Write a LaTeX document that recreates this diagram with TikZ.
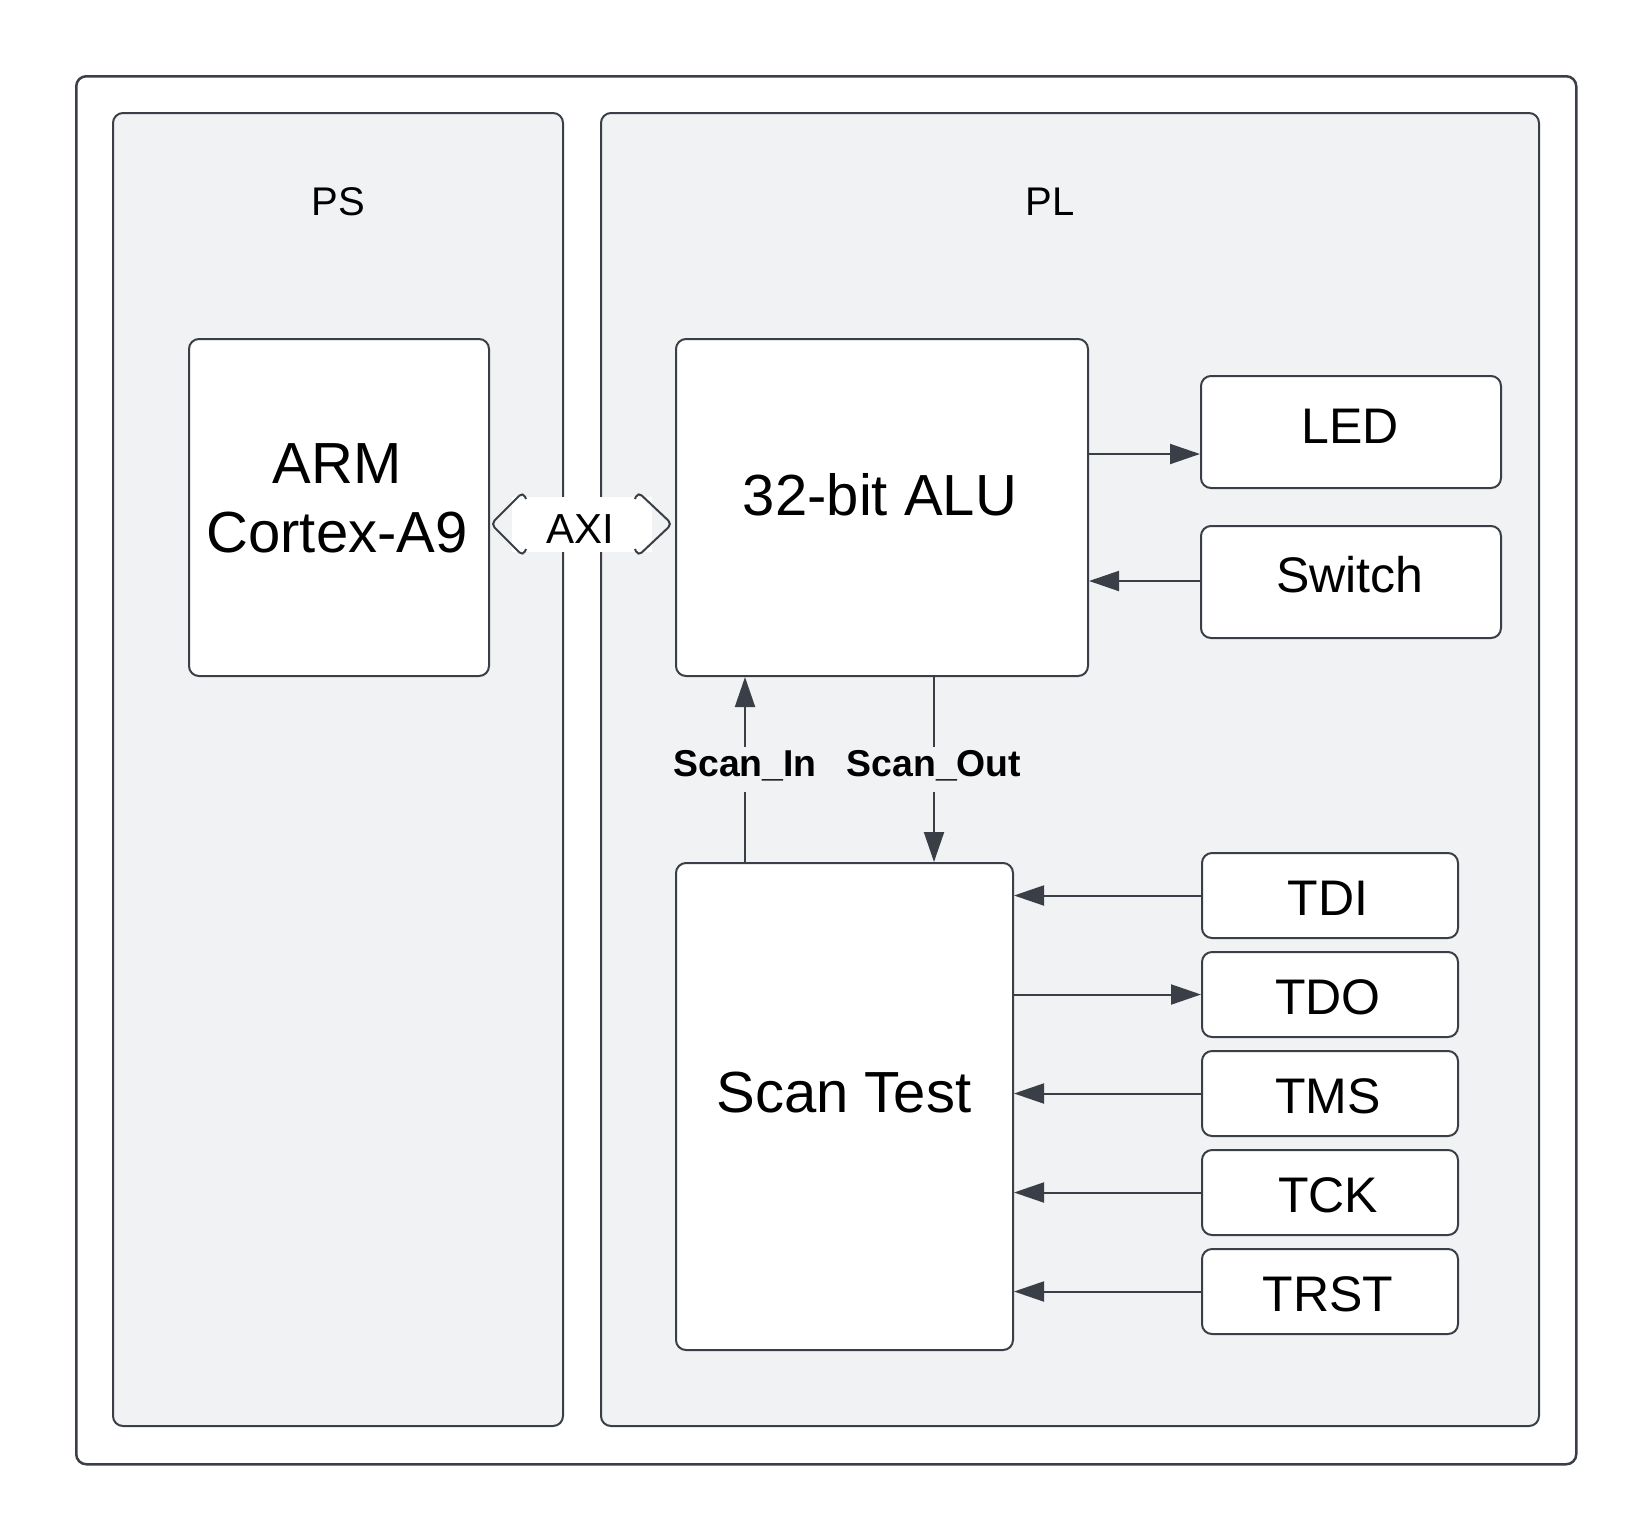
\documentclass[tikz,border=0pt]{standalone}
\usepackage{fontspec}
\setmainfont{Liberation Sans}
\usetikzlibrary{arrows.meta}
\definecolor{ln}{HTML}{3A3F47}
\definecolor{pnl}{HTML}{F1F2F4}
\begin{document}
\begin{tikzpicture}[x=0.5pt,y=-0.5pt,
  panel/.style={draw=ln, line width=1pt, fill=pnl, rounded corners=5pt, inner sep=0pt, anchor=north west},
  box/.style={draw=ln, line width=1pt, fill=white, rounded corners=5pt, inner sep=0pt, anchor=north west},
  port/.style={box, minimum width=128pt, minimum height=42.5pt},
  txt/.style={inner sep=0pt, anchor=base, text=black},
  big/.style={txt, font=\fontsize{29pt}{35pt}\selectfont},
  mid/.style={txt, font=\fontsize{25pt}{30pt}\selectfont},
  arr/.style={draw=ln, line width=1pt, -{Triangle[length=15pt,width=10pt]}},
  lbl/.style={fill=pnl, inner sep=0pt, inner xsep=2pt, text height=14.5pt, text depth=8pt,
    font=\bfseries\fontsize{18.7pt}{21pt}\selectfont, text=black}
]
\fill[white] (0,0) rectangle (1650,1538);
\useasboundingbox (0,0) rectangle (1650,1538);

% frames
\node[box, line width=1.25pt, minimum width=750pt, minimum height=694pt] (frame) at (75,75) {};
\node[panel, minimum width=225pt, minimum height=656.5pt] (ps) at (112,112) {};
\node[panel, minimum width=469pt, minimum height=656.5pt] (pl) at (600,112) {};
\node[txt, font=\fontsize{20pt}{24pt}\selectfont] (pst) at (338,215) {PS};
\node[txt, font=\fontsize{20pt}{24pt}\selectfont] (plt) at (1050,215) {PL};

% main blocks
\node[box, minimum width=150pt, minimum height=168.5pt] (arm) at (188,338) {};
\node[big] (arma) at (337,483) {ARM};
\node[big] (armb) at (337,552) {Cortex-A9};

\node[box, minimum width=206pt, minimum height=168.5pt] (alu) at (675,338) {};
\node[big] (alut) at (880,515) {32-bit ALU};

\node[box, minimum width=150pt, minimum height=56pt] (led) at (1200,375) {};
\node[mid] (ledt) at (1350,443) {LED};
\node[box, minimum width=150pt, minimum height=56pt] (sw) at (1200,525) {};
\node[mid] (swt) at (1350,592) {Switch};

\node[box, minimum width=168.5pt, minimum height=243.5pt] (scan) at (675,862) {};
\node[big] (scant) at (844,1112) {Scan Test};

% JTAG ports
\node[port] (tdi) at (1201,852) {};
\node[port] (tdo) at (1201,951) {};
\node[port] (tms) at (1201,1050) {};
\node[port] (tck) at (1201,1149) {};
\node[port] (trst) at (1201,1248) {};
\node[mid] (tdit) at (1328,915) {TDI};
\node[mid] (tdot) at (1328,1014) {TDO};
\node[mid] (tmst) at (1328,1113) {TMS};
\node[mid] (tckt) at (1328,1212) {TCK};
\node[mid] (trstt) at (1328,1311) {TRST};

% AXI double arrow
\fill[white] (512,497) rectangle (652,552);
\draw[ln, line width=1pt, line join=round, rounded corners=2.5pt]
  (526,499) -- (523,492) -- (491,524) -- (523,556) -- (526,549);
\draw[ln, line width=1pt, line join=round, rounded corners=2.5pt]
  (635,499) -- (638,492) -- (672,524) -- (638,556) -- (635,549);
\node[txt, font=\fontsize{21pt}{25pt}\selectfont] (axi) at (580,543) {AXI};

% connectors
\coordinate (ledy) at (0,454);
\coordinate (swy) at (0,581);
\coordinate (sinx) at (745,0);
\coordinate (soutx) at (934,0);
\draw[arr] (alu.east |- ledy) -- (led.west |- ledy);
\draw[arr] (sw.west |- swy) -- (alu.east |- swy);
\draw[arr] (scan.north -| sinx) -- node[lbl] (sinl) {Scan\_In} (alu.south -| sinx);
\draw[arr] (alu.south -| soutx) -- node[lbl] (soutl) {Scan\_Out} (scan.north -| soutx);

\draw[arr] (tdi.west) -- (scan.east |- tdi.west);
\draw[arr] (scan.east |- tdo.west) -- (tdo.west);
\draw[arr] (tms.west) -- (scan.east |- tms.west);
\draw[arr] (tck.west) -- (scan.east |- tck.west);
\draw[arr] (trst.west) -- (scan.east |- trst.west);
\end{tikzpicture}
\end{document}
